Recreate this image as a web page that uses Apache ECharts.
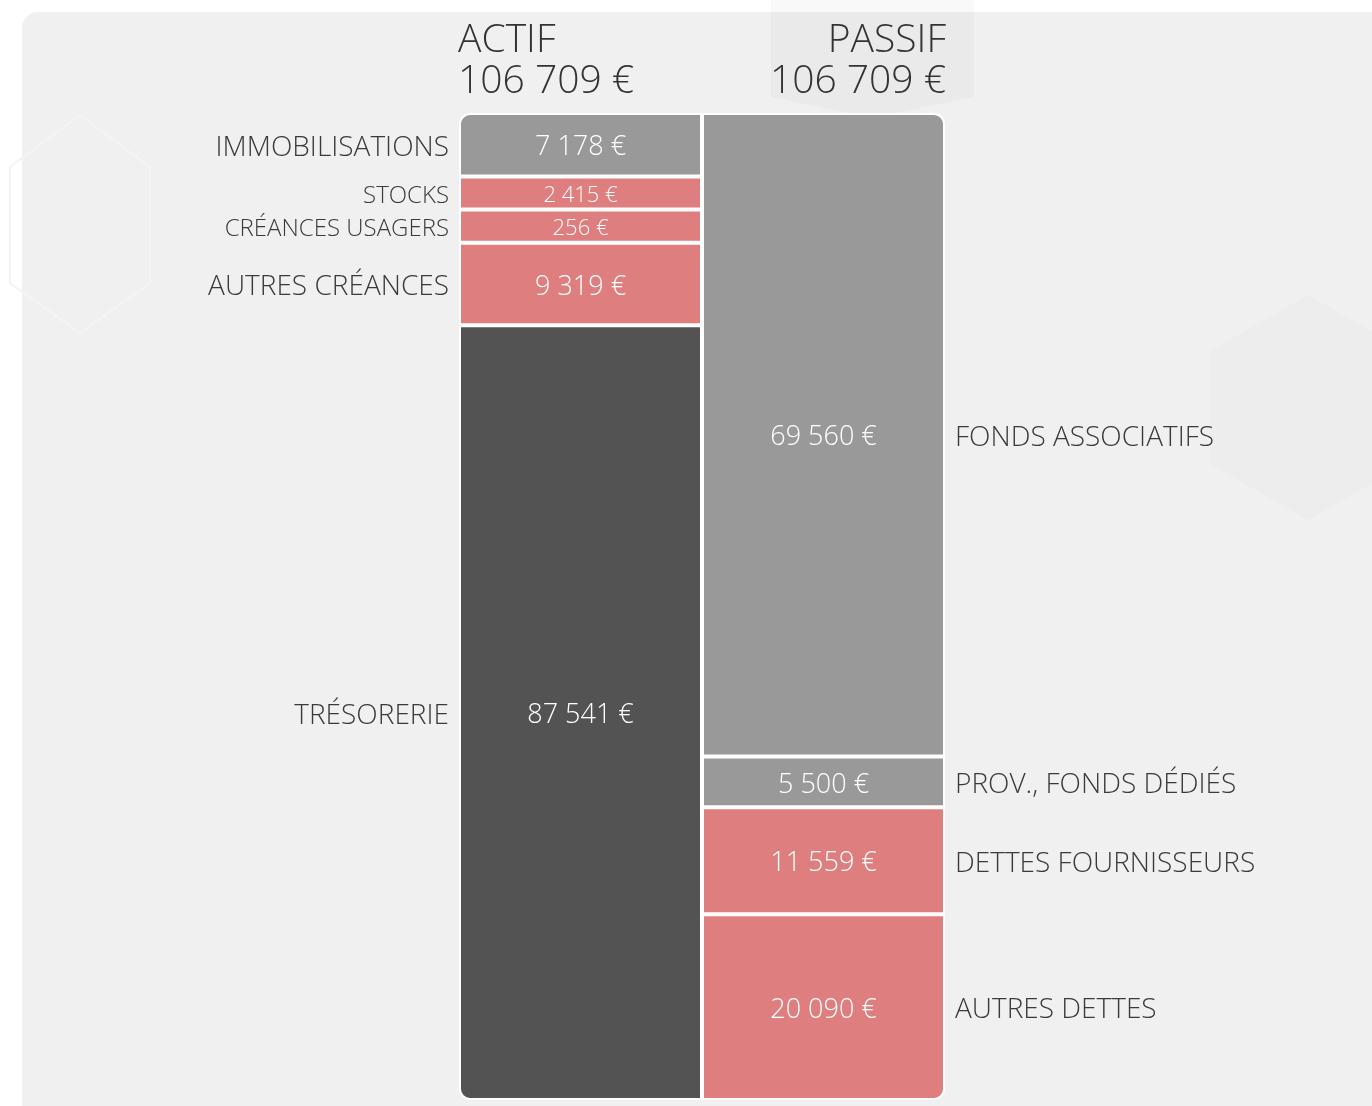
<!DOCTYPE html>
<html lang="fr">
<head>
    <meta charset="UTF-8">
    <title>Bilan</title>
</head>
<script type="text/javascript" src="https://cdn.jsdelivr.net/npm/echarts@6/dist/echarts.min.js"></script>
<style type="text/css">
    html, body { margin: 0; padding: 0; background: #ffffff; }
    #main { width: 1372px; height: 1106px; }
</style>
<body>
<div id="main"></div>
<script type="text/javascript">
    var columns = ['ACTIF', 'PASSIF'];
    var actifNames = ['IMMOBILISATIONS', 'STOCKS', 'CRÉANCES USAGERS', 'AUTRES CRÉANCES', 'TRÉSORERIE'];
    var actifValues = [7178, 2415, 256, 9319, 87541];
    var passifNames = ['FONDS ASSOCIATIFS', 'PROV., FONDS DÉDIÉS', 'DETTES FOURNISSEURS', 'AUTRES DETTES'];
    var passifValues = [69560, 5500, 11559, 20090];

    // couleurs
    var GRIS = '#999999', ROUGE = '#de7e7e', FONCE = '#535353';
    var actifColors = [GRIS, ROUGE, ROUGE, ROUGE, FONCE];
    var passifColors = [GRIS, GRIS, ROUGE, ROUGE];
    var FONT = '"Open Sans", sans-serif';

    function sum(arr) { return arr.reduce(function (a, b) { return a + b; }, 0); }
    function fmt(v) { return String(v).replace(/\B(?=(\d{3})+(?!\d))/g, ' ') + ' €'; }

    // hauteur minimale pour les petits postes (comme sur l'original), reprise sur les autres
    function shownValues(vals) {
        var total = sum(vals), minV = total * 0.0335, extra = 0, big = 0;
        vals.forEach(function (v) { if (v < minV) extra += minV - v; else big += v; });
        return vals.map(function (v) { return v < minV ? minV : v * (1 - extra / big); });
    }

    var totalActif = sum(actifValues);
    var totalPassif = sum(passifValues);

    var series = [];
    function addColumn(names, values, colors, colIndex) {
        var shown = shownValues(values);
        var last = names.length - 1;
        names.forEach(function (name, i) {
            var small = shown[i] < totalActif * 0.05;
            var radius = [0, 0, 0, 0];
            if (colIndex === 0) {
                if (i === 0) radius[0] = 10;
                if (i === last) radius[3] = 10;
            } else {
                if (i === 0) radius[1] = 10;
                if (i === last) radius[2] = 10;
            }
            var d = [ '-', '-' ];
            d[colIndex] = { value: shown[i], real: values[i] };
            series.push({
                name: name,
                type: 'bar',
                stack: 'valeurs',
                barWidth: '100%',
                barGap: '-100%',
                data: d,
                itemStyle: { color: colors[i], borderColor: '#ffffff', borderWidth: 2, borderRadius: radius },
                label: {
                    show: true,
                    position: 'inside',
                    offset: [0, 3],
                    color: '#ffffff',
                    fontFamily: FONT,
                    fontWeight: 300,
                    fontSize: small ? 22 : 27,
                    formatter: function (p) { return fmt(p.data.real); }
                },
                silent: true
            });
            // noms des postes, à gauche pour l'actif, à droite pour le passif
            var n = [ '-', '-' ];
            n[colIndex] = shown[i];
            series.push({
                name: name + ' ',
                type: 'bar',
                stack: 'noms',
                barWidth: '100%',
                barGap: '-100%',
                data: n,
                itemStyle: { color: 'rgba(0,0,0,0)' },
                label: {
                    show: true,
                    position: colIndex === 0 ? 'left' : 'right',
                    distance: 10,
                    offset: [0, 3],
                    color: '#3a3a3a',
                    fontFamily: FONT,
                    fontWeight: 300,
                    fontSize: small ? 24 : 28,
                    formatter: name
                },
                silent: true
            });
        });
    }
    addColumn(actifNames, actifValues, actifColors, 0);
    addColumn(passifNames, passifValues, passifColors, 1);

    var chart = echarts.init(document.getElementById('main'));
    chart.setOption({
        animation: false,
        backgroundColor: '#ffffff',
        graphic: [
            { type: 'rect', z: -10, shape: { x: 22, y: 12, width: 1400, height: 1150, r: 16 }, style: { fill: '#f0f0f0' } },
            { type: 'polygon', z: -9, shape: { points: [[1308, 295], [1406, 351], [1406, 464], [1308, 520], [1210, 464], [1210, 351]] }, style: { fill: '#ededed' } },
            { type: 'polygon', z: -9, shape: { points: [[872, -100], [974, -40], [974, 97], [872, 118], [771, 97], [771, -40]] }, style: { fill: 'rgba(0,0,0,0.025)' } },
            { type: 'polygon', z: -9, shape: { points: [[80, 115], [150, 167], [150, 283], [80, 333], [10, 283], [10, 167]] }, style: { fill: 'none', stroke: '#f4f4f4', lineWidth: 2 } }
        ],
        title: [
            {
                text: columns[0] + '\n' + fmt(totalActif),
                left: 458, top: 20, padding: 0,
                textStyle: { fontFamily: FONT, fontWeight: 300, fontSize: 39, lineHeight: 41, color: '#333333' }
            },
            {
                text: columns[1] + '\n' + fmt(totalPassif),
                left: 946, top: 20, padding: 0, textAlign: 'right',
                textStyle: { fontFamily: FONT, fontWeight: 300, fontSize: 39, lineHeight: 41, color: '#333333', align: 'right' }
            }
        ],
        grid: { left: 459, right: 427, top: 113, bottom: 6 },
        xAxis: {
            type: 'category',
            data: columns,
            show: false
        },
        yAxis: {
            type: 'value',
            min: 0,
            max: Math.max(totalActif, totalPassif),
            inverse: true,
            show: false
        },
        series: series
    });
</script>
</body>
</html>
